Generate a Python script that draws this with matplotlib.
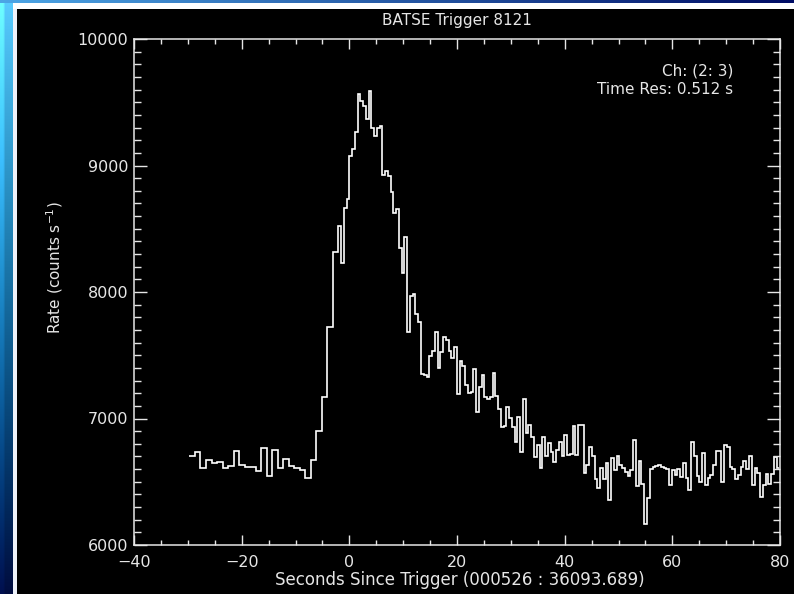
import numpy as np
import matplotlib
matplotlib.use("Agg")
from matplotlib import pyplot as plt
from matplotlib.patches import Rectangle
from matplotlib.ticker import MultipleLocator

# pre-trigger rates, 1.024 s bins starting at -29.696 s
pre_start = -29.696
pre_dt = 1.024
pre_rates = [6704, 6733, 6606, 6672, 6646, 6656, 6606, 6627, 6743, 6632,
             6614, 6614, 6588, 6769, 6545, 6751, 6606, 6680, 6625, 6606,
             6593, 6527, 6672, 6901, 7167, 7726, 8314]

# post-trigger rates, 0.512 s bins starting at -2.048 s
post_dt = 0.512
post_rates = [8522, 8232, 8667, 8735, 9078, 9128, 9267, 9563, 9512, 9470,
              9365, 9589, 9294, 9236, 9294, 9312, 8925, 8957, 8920, 8793,
              8627, 8656, 8345, 8148, 8437, 7686, 7968, 7982, 7826, 7765,
              7349, 7340, 7331, 7494, 7536, 7686, 7402, 7528, 7642, 7620,
              7536, 7476, 7568, 7191, 7457, 7418, 7265, 7199, 7212, 7389,
              7054, 7252, 7341, 7173, 7154, 7173, 7362, 7180, 7075, 6935,
              6941, 7094, 7001, 6935, 6817, 7014, 6738, 7154, 6883, 6949,
              6856, 6698, 6791, 6606, 6856, 6706, 6809, 6733, 6659, 6751,
              6817, 6704, 6870, 6711, 6719, 6941, 6711, 6949, 6949, 6567,
              6632, 6772, 6704, 6520, 6448, 6606, 6519, 6646, 6356, 6685,
              6593, 6704, 6632, 6606, 6580, 6545, 6593, 6830, 6466, 6667,
              6480, 6163, 6369, 6598, 6614, 6625, 6632, 6614, 6606, 6600,
              6474, 6593, 6553, 6598, 6540, 6651, 6527, 6435, 6812, 6704,
              6548, 6501, 6725, 6474, 6527, 6553, 6632, 6746, 6746, 6501,
              6791, 6777, 6614, 6598, 6519, 6553, 6614, 6664, 6601, 6704,
              6474, 6606, 6572, 6382, 6474, 6561, 6482, 6561, 6693, 6606]

pre_edges = pre_start + pre_dt * np.arange(len(pre_rates) + 1)
post_edges = pre_edges[-1] + post_dt * np.arange(1, len(post_rates) + 1)
edges = np.concatenate([pre_edges, post_edges])
rates = np.array(pre_rates + post_rates, dtype=float)

W, H = 794, 594
fg = "#e6e6e6"
fig = plt.figure(figsize=(W / 100, H / 100), dpi=100, facecolor="black")

# slide frame around the plot
bg = fig.add_axes([0, 0, 1, 1])
bg.set_xlim(0, W)
bg.set_ylim(H, 0)
bg.axis("off")
side = np.linspace(0, 1, 200)[:, None]
side_rgb = np.stack([0.35 * (1 - side) ** 2,
                     0.75 * (1 - side) + 0.05,
                     1.0 * (1 - side * 0.75)], axis=-1)
side_rgb = np.repeat(side_rgb, 6, axis=1)
side_rgb[:, :2] = np.clip(side_rgb[:, :2] * 1.25, 0, 1)
bg.imshow(side_rgb, extent=[0, 13, H, 0], aspect="auto", interpolation="bilinear")
top = np.linspace(0, 1, 200)[None, :]
top_rgb = np.stack([0.3 * (1 - top), 0.6 * (1 - top) + 0.05, 0.9 - 0.5 * top], axis=-1)
bg.imshow(top_rgb, extent=[0, W, 3, 0], aspect="auto", interpolation="bilinear")
bg.add_patch(Rectangle((13, 3), 4, H - 3, color="#eef2fa", lw=0))
bg.add_patch(Rectangle((13, 3), W - 13, 6, color="white", lw=0))

ax = fig.add_axes([134 / W, 1 - 545 / H, 646 / W, 506 / H])
ax.set_facecolor("black")
ax.stairs(rates, edges, color="white", lw=1.2, baseline=None)
ax.set_xlim(-40, 80)
ax.set_ylim(6000, 10000)

ax.xaxis.set_major_locator(MultipleLocator(20))
ax.xaxis.set_minor_locator(MultipleLocator(5))
ax.yaxis.set_major_locator(MultipleLocator(1000))
ax.yaxis.set_minor_locator(MultipleLocator(100))
ax.tick_params(which="both", direction="in", top=True, right=True,
               colors=fg, width=1.0, labelsize=11.5)
ax.tick_params(axis="x", which="major", length=7.2, pad=7)
ax.tick_params(axis="x", which="minor", length=3.6)
ax.tick_params(axis="y", which="major", length=9.4, pad=4)
ax.tick_params(axis="y", which="minor", length=5.2)
for sp in ax.spines.values():
    sp.set_color(fg)
    sp.set_linewidth(1.1)

fig.text(457 / W, 1 - 21 / H, "BATSE Trigger 8121", color=fg,
         fontsize=11, ha="center", va="center")
fig.text(460 / W, 1 - 580 / H, "Seconds Since Trigger (000526 : 36093.689)",
         color=fg, fontsize=12, ha="center", va="center")
fig.text(55 / W, 1 - 268 / H, "Rate (counts s$^{-1}$)", color=fg,
         fontsize=11, ha="center", va="center", rotation=90)
fig.text(733 / W, 1 - 71 / H, "Ch: (2: 3)", color=fg, fontsize=11,
         ha="right", va="center")
fig.text(733 / W, 1 - 90 / H, "Time Res: 0.512 s", color=fg, fontsize=11,
         ha="right", va="center")

fig.savefig("out.png", dpi=100, facecolor="black")
